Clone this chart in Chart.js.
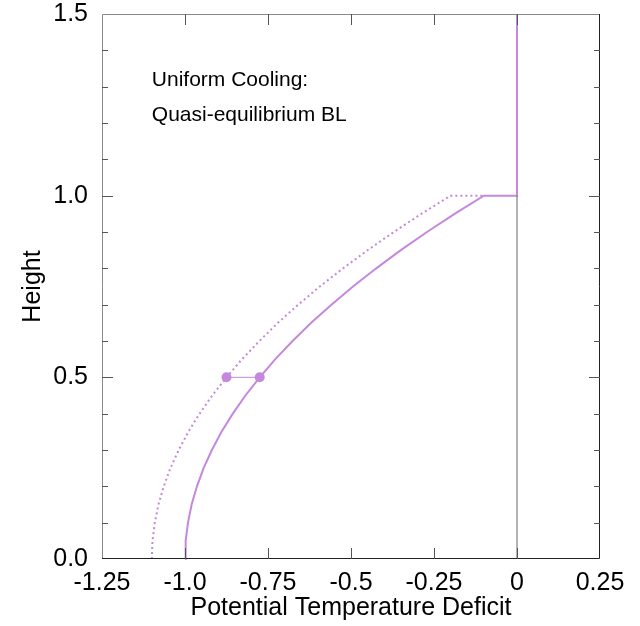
<!DOCTYPE html>
<html>
<head>
<meta charset="utf-8">
<script src="https://cdn.jsdelivr.net/npm/chart.js@4.4.1/dist/chart.umd.min.js"></script>
<style>
  body { margin: 0; background: #fff; }
  canvas { display: block; }
</style>
</head>
<body>
<canvas id="bl" width="640" height="626"></canvas>
<script>
const heights = [0, 0.05, 0.1, 0.15, 0.2, 0.25, 0.3, 0.35, 0.4, 0.45, 0.5,
                 0.55, 0.6, 0.65, 0.7, 0.75, 0.8, 0.85, 0.9, 0.95, 1.0];
// solid profile (quasi-equilibrium BL)
const solidDeficit = [-1.000, -0.998, -0.991, -0.980, -0.964, -0.944, -0.919, -0.890, -0.856, -0.818, -0.775,
                      -0.728, -0.676, -0.620, -0.559, -0.494, -0.424, -0.350, -0.271, -0.188, -0.100];
// dotted profile
const dottedDeficit = [-1.100, -1.098, -1.091, -1.080, -1.064, -1.044, -1.019, -0.990, -0.956, -0.918, -0.875,
                       -0.828, -0.776, -0.720, -0.659, -0.594, -0.524, -0.450, -0.371, -0.288, -0.200];
// top of the BL and above
const solidTopX = [-0.100, 0, 0];
const solidTopY = [1.0, 1.0, 1.5];
const dottedTopX = [-0.200, -0.100];
const dottedTopY = [1.0, 1.0];
// the two marked points at mid height
const markX = [-0.875, -0.775];
const markY = [0.5, 0.5];
// zero line
const zeroX = [0, 0];
const zeroY = [0, 1.0];

const xTickValues = [-1.25, -1.0, -0.75, -0.5, -0.25, 0, 0.25];
const xTickLabels = ['-1.25', '-1.0', '-0.75', '-0.5', '-0.25', '0', '0.25'];
const yTickValues = [0, 0.5, 1.0, 1.5];
const yTickLabels = ['0.0', '0.5', '1.0', '1.5'];
const yMinorValues = [0.1, 0.2, 0.3, 0.4, 0.6, 0.7, 0.8, 0.9, 1.1, 1.2, 1.3, 1.4];
const notes = ['Uniform Cooling:', 'Quasi-equilibrium BL'];

const purple = '#c488dc';
const font = 'Liberation Sans, Arial, Helvetica, sans-serif';

const toPts = (xs, ys) => xs.map((x, i) => ({ x: x, y: ys[i] }));

// frame with inward ticks on all four sides, plus the text note
const framePlugin = {
  id: 'frame',
  afterDraw(chart) {
    const ctx = chart.ctx;
    const a = chart.chartArea;
    const xs = chart.scales.x, ys = chart.scales.y;
    ctx.save();
    ctx.lineWidth = 1;
    // left and top
    ctx.strokeStyle = '#8a8a8a';
    ctx.beginPath();
    ctx.moveTo(a.left + 0.5, a.bottom);
    ctx.lineTo(a.left + 0.5, a.top + 0.5);
    ctx.lineTo(a.right, a.top + 0.5);
    ctx.stroke();
    // right and bottom
    ctx.strokeStyle = '#222';
    ctx.beginPath();
    ctx.moveTo(a.right - 0.5, a.top);
    ctx.lineTo(a.right - 0.5, a.bottom - 0.5);
    ctx.lineTo(a.left, a.bottom - 0.5);
    ctx.stroke();
    // x ticks
    ctx.strokeStyle = '#555';
    ctx.beginPath();
    xTickValues.forEach(v => {
      if (v <= -1.25 || v >= 0.25) return;
      const px = Math.round(xs.getPixelForValue(v)) + 0.5;
      ctx.moveTo(px, a.bottom); ctx.lineTo(px, a.bottom - 11);
      ctx.moveTo(px, a.top); ctx.lineTo(px, a.top + 11);
    });
    // y ticks
    yTickValues.concat(yMinorValues).forEach(v => {
      if (v <= 0 || v >= 1.5) return;
      const len = yTickValues.includes(v) ? 11 : 6;
      const py = Math.round(ys.getPixelForValue(v)) + 0.5;
      ctx.moveTo(a.left, py); ctx.lineTo(a.left + len, py);
      ctx.moveTo(a.right, py); ctx.lineTo(a.right - len, py);
    });
    ctx.stroke();
    // note
    ctx.fillStyle = '#000';
    ctx.font = '21px ' + font;
    ctx.textBaseline = 'middle';
    ctx.textAlign = 'left';
    ctx.fillText(notes[0], xs.getPixelForValue(-1.1), ys.getPixelForValue(1.318));
    ctx.fillText(notes[1], xs.getPixelForValue(-1.1), ys.getPixelForValue(1.222));
    ctx.restore();
  }
};

new Chart(document.getElementById('bl'), {
  type: 'scatter',
  data: {
    datasets: [
      {
        data: toPts(zeroX, zeroY),
        showLine: true, borderColor: '#666', borderWidth: 1, pointRadius: 0
      },
      {
        data: toPts(solidDeficit, heights).concat(toPts(solidTopX, solidTopY).slice(1)),
        showLine: true, borderColor: purple, borderWidth: 2, pointRadius: 0
      },
      {
        data: toPts(dottedDeficit, heights).concat(toPts(dottedTopX, dottedTopY).slice(1)),
        showLine: true, borderColor: purple, borderWidth: 2, borderDash: [2, 3], pointRadius: 0
      },
      {
        data: toPts(markX, markY),
        showLine: true, borderColor: purple, borderWidth: 1,
        pointRadius: 5, pointBackgroundColor: purple, pointBorderWidth: 0
      }
    ]
  },
  options: {
    responsive: false,
    animation: false,
    clip: false,
    layout: { padding: { left: 0, right: 40, top: 14, bottom: 0 } },
    plugins: { legend: { display: false }, tooltip: { enabled: false } },
    scales: {
      x: {
        type: 'linear', min: -1.25, max: 0.25,
        grid: { display: false }, border: { display: false },
        afterBuildTicks: s => { s.ticks = xTickValues.map(v => ({ value: v })); },
        afterFit: s => { s.height = 67; s.paddingLeft = 0; s.paddingRight = 0; },
        ticks: {
          color: '#000', padding: 1, maxRotation: 0, autoSkip: false,
          font: { family: font, size: 25 },
          callback: v => xTickLabels[xTickValues.indexOf(v)]
        },
        title: {
          display: true, text: 'Potential Temperature Deficit', color: '#000',
          font: { family: font, size: 25 }, padding: { top: 0, bottom: 3 }
        }
      },
      y: {
        type: 'linear', min: 0, max: 1.5,
        grid: { display: false }, border: { display: false },
        afterBuildTicks: s => { s.ticks = yTickValues.map(v => ({ value: v })); },
        afterFit: s => { s.width = 102; s.paddingTop = 0; s.paddingBottom = 0; },
        ticks: {
          color: '#000', padding: 6,
          font: { family: font, size: 25 },
          callback: v => yTickLabels[yTickValues.indexOf(v)]
        },
        title: {
          display: true, text: 'Height', color: '#000',
          font: { family: font, size: 25 }, padding: { top: 18, bottom: 0 }
        }
      }
    }
  },
  plugins: [framePlugin]
});
</script>
</body>
</html>
